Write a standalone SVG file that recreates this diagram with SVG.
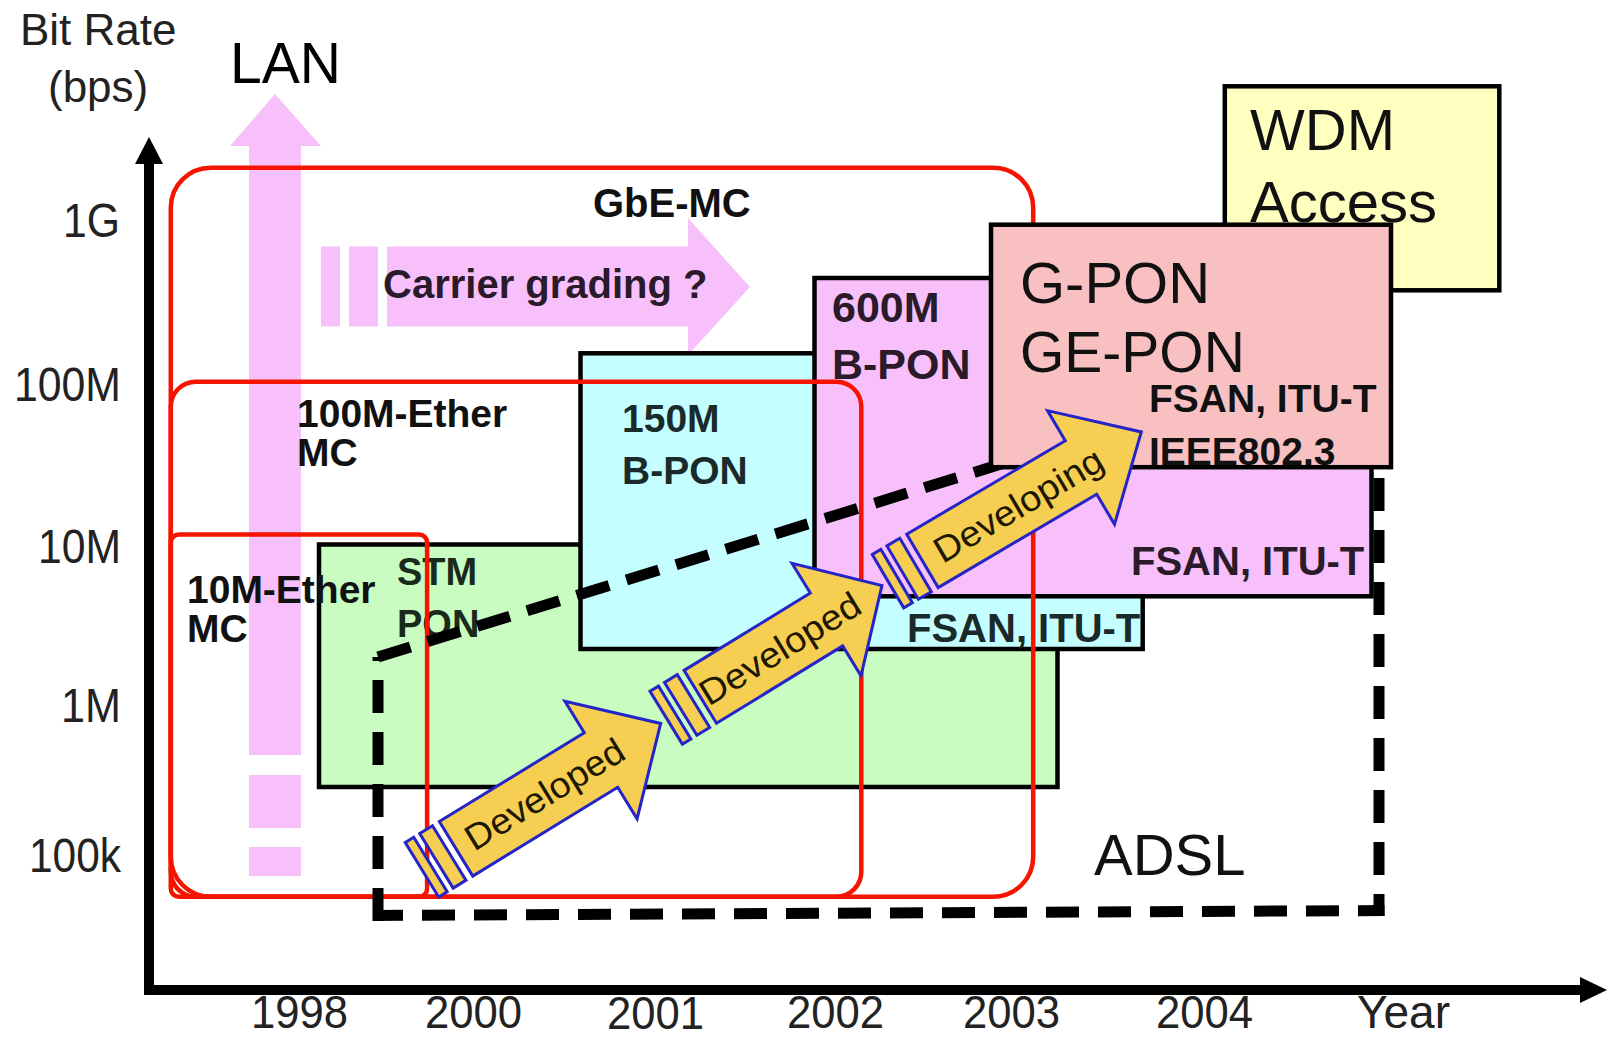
<svg xmlns="http://www.w3.org/2000/svg" width="1607" height="1038" viewBox="0 0 1607 1038">
<style>
text{font-family:"Liberation Sans",Arial,sans-serif}
.ax{font-size:48px;fill:#222}
.yr{font-size:46px;fill:#222}
.ttl{font-size:44px;fill:#222}
.b{font-weight:bold;font-size:39px;fill:#111}
.big{font-size:58px;fill:#111}
.box{stroke:#000;stroke-width:4.5}
.red{fill:none;stroke:#f41400;stroke-width:4.5}
.pk{fill:#f8c0fa}
.ya{fill:#f6ce52;stroke:#2424c8;stroke-width:3;stroke-linejoin:miter}
.dev{font-size:36px;fill:#1e1800}
.dash{fill:none;stroke:#000;stroke-width:11;stroke-dasharray:33 19}
.axis{stroke:#000;stroke-width:10;fill:none}
</style>
<rect width="1607" height="1038" fill="#fff"/>

<g id="axes">
  <line class="axis" x1="149" y1="995" x2="149" y2="160"/>
  <polygon points="149,137 163,164 135,164" fill="#000"/>
  <line class="axis" x1="144" y1="990" x2="1582" y2="990"/>
  <polygon points="1607,990 1580,977 1580,1003" fill="#000"/>
  <text class="ttl" x="20" y="45">Bit Rate</text>
  <text class="ttl" x="48" y="102">(bps)</text>
  <text class="ax" x="63" y="237" textLength="57" lengthAdjust="spacingAndGlyphs">1G</text>
  <text class="ax" x="14" y="401" textLength="107" lengthAdjust="spacingAndGlyphs">100M</text>
  <text class="ax" x="38" y="563" textLength="83" lengthAdjust="spacingAndGlyphs">10M</text>
  <text class="ax" x="61" y="722" textLength="60" lengthAdjust="spacingAndGlyphs">1M</text>
  <text class="ax" x="29" y="872" textLength="92" lengthAdjust="spacingAndGlyphs">100k</text>
  <text class="yr" x="251" y="1028" textLength="97" lengthAdjust="spacingAndGlyphs">1998</text>
  <text class="yr" x="425" y="1028" textLength="97" lengthAdjust="spacingAndGlyphs">2000</text>
  <text class="yr" x="607" y="1028.5" textLength="97" lengthAdjust="spacingAndGlyphs">2001</text>
  <text class="yr" x="787" y="1028" textLength="97" lengthAdjust="spacingAndGlyphs">2002</text>
  <text class="yr" x="963" y="1028" textLength="97" lengthAdjust="spacingAndGlyphs">2003</text>
  <text class="yr" x="1156" y="1028" textLength="97" lengthAdjust="spacingAndGlyphs">2004</text>
  <text class="yr" x="1357" y="1028" textLength="93" lengthAdjust="spacingAndGlyphs">Year</text>
</g>

<g id="lan-arrow">
  <polygon class="pk" points="249,755 249,146 230,146 275,94 321,146 301,146 301,755"/>
  <rect class="pk" x="249" y="775" width="52" height="53"/>
  <rect class="pk" x="249" y="847" width="52" height="29"/>
  <text x="230" y="83" style="font-size:57px;fill:#000">LAN</text>
</g>

<g id="carrier-grading-arrow">
  <rect class="pk" x="321" y="246.5" width="19" height="80"/>
  <rect class="pk" x="349" y="246.5" width="29" height="80"/>
  <polygon class="pk" points="387,246.5 688,246.5 688,218 750,287 688,355 688,326.5 387,326.5"/>
  <text class="b" x="383" y="298" style="font-size:40px;fill:#2a1a2a">Carrier grading ?</text>
</g>

<g id="stm-pon">
  <rect class="box" x="319" y="544.5" width="738.5" height="242.5" fill="#c8fcc0"/>
  <text class="b" x="397" y="585" style="font-size:38px;fill:#1a2a1a">STM</text>
  <text class="b" x="397" y="637" style="font-size:38px;fill:#1a2a1a">PON</text>
</g>

<g id="b-pon-150m">
  <rect class="box" x="580.5" y="353.3" width="562.2" height="295.7" fill="#c4fefe"/>
  <text class="b" x="622" y="432" style="fill:#1a2a2a">150M</text>
  <text class="b" x="622" y="484" style="fill:#1a2a2a">B-PON</text>
  <text class="b" x="907" y="642" style="font-size:40px;fill:#1a2a2a">FSAN, ITU-T</text>
</g>

<g id="b-pon-600m">
  <rect class="box" x="814.5" y="278" width="557" height="318.3" fill="#f8c0fa"/>
  <text class="b" x="832" y="322" style="font-size:43px;fill:#2a1a2a">600M</text>
  <text class="b" x="832" y="379" style="font-size:43px;fill:#2a1a2a">B-PON</text>
  <text class="b" x="1131" y="575" style="font-size:40px;fill:#2a1a2a">FSAN, ITU-T</text>
</g>

<g id="wdm-access">
  <rect class="box" x="1224.8" y="86.3" width="274.5" height="204" fill="#ffffc0"/>
  <text class="big" x="1250" y="150">WDM</text>
  <text class="big" x="1250" y="222">Access</text>
</g>

<g id="gbe-mc">
  <rect class="red" x="170.8" y="167.7" width="862.4" height="729" rx="40"/>
  <text class="b" x="593" y="217" style="font-size:40px">GbE-MC</text>
</g>
<g id="ether-100m-mc">
  <rect class="red" x="170.8" y="381.7" width="690.5" height="515" rx="25"/>
  <text class="b" x="297" y="427">100M-Ether</text>
  <text class="b" x="297" y="466">MC</text>
</g>
<g id="ether-10m-mc">
  <rect class="red" x="170.8" y="534.5" width="256.3" height="362.2" rx="8"/>
  <text class="b" x="187" y="603">10M-Ether</text>
  <text class="b" x="187" y="642">MC</text>
</g>

<g id="adsl">
  <path class="dash" d="M378,921 V657"/>
  <path class="dash" d="M373,915.5 L1384.5,910.5" stroke-dashoffset="3"/>
  <path class="dash" d="M1379,916 V350" stroke-dashoffset="11"/>
  <path class="dash" d="M378,657 L1379,347" style="stroke-dasharray:34 18"/>
  <text class="big" x="1094" y="875">ADSL</text>
</g>

<g id="g-pon">
  <rect class="box" x="991" y="224.7" width="400" height="242.5" fill="#f9c0c2"/>
  <text class="big" x="1020" y="303">G-PON</text>
  <text class="big" x="1020" y="372" style="font-size:57px">GE-PON</text>
  <text class="b" x="1149" y="412">FSAN, ITU-T</text>
  <text class="b" x="1149" y="465">IEEE802.3</text>
</g>

<g id="connectors">
  <g id="arrow-developed-1" transform="translate(601,760) rotate(-31.5)">
    <rect class="ya" x="-210" y="-32" width="10" height="64"/>
    <rect class="ya" x="-193" y="-32" width="15" height="64"/>
    <polygon class="ya" points="-170,-32 0,-32 0,-69 70,0 0,69 0,32 -170,32"/>
    <text class="dev" x="-156" y="12" textLength="180" lengthAdjust="spacingAndGlyphs">Developed</text>
  </g>
  <g id="arrow-developed-2" transform="translate(826.5,619.5) rotate(-31.5)">
    <rect class="ya" x="-188" y="-31" width="10" height="62"/>
    <rect class="ya" x="-171" y="-31" width="15" height="62"/>
    <polygon class="ya" points="-148,-31 0,-31 0,-66 65,0 0,66 0,31 -148,31"/>
    <text class="dev" x="-146" y="13" textLength="182" lengthAdjust="spacingAndGlyphs">Developed</text>
  </g>
  <g id="arrow-developing" transform="translate(1081,467.5) rotate(-30.5)">
    <rect class="ya" x="-224" y="-31" width="10" height="62"/>
    <rect class="ya" x="-207" y="-31" width="15" height="62"/>
    <polygon class="ya" points="-184,-31 0,-31 0,-66 70,0 0,66 0,31 -184,31"/>
    <text class="dev" x="-168" y="13" textLength="190" lengthAdjust="spacingAndGlyphs">Developing</text>
  </g>
</g>
</svg>
